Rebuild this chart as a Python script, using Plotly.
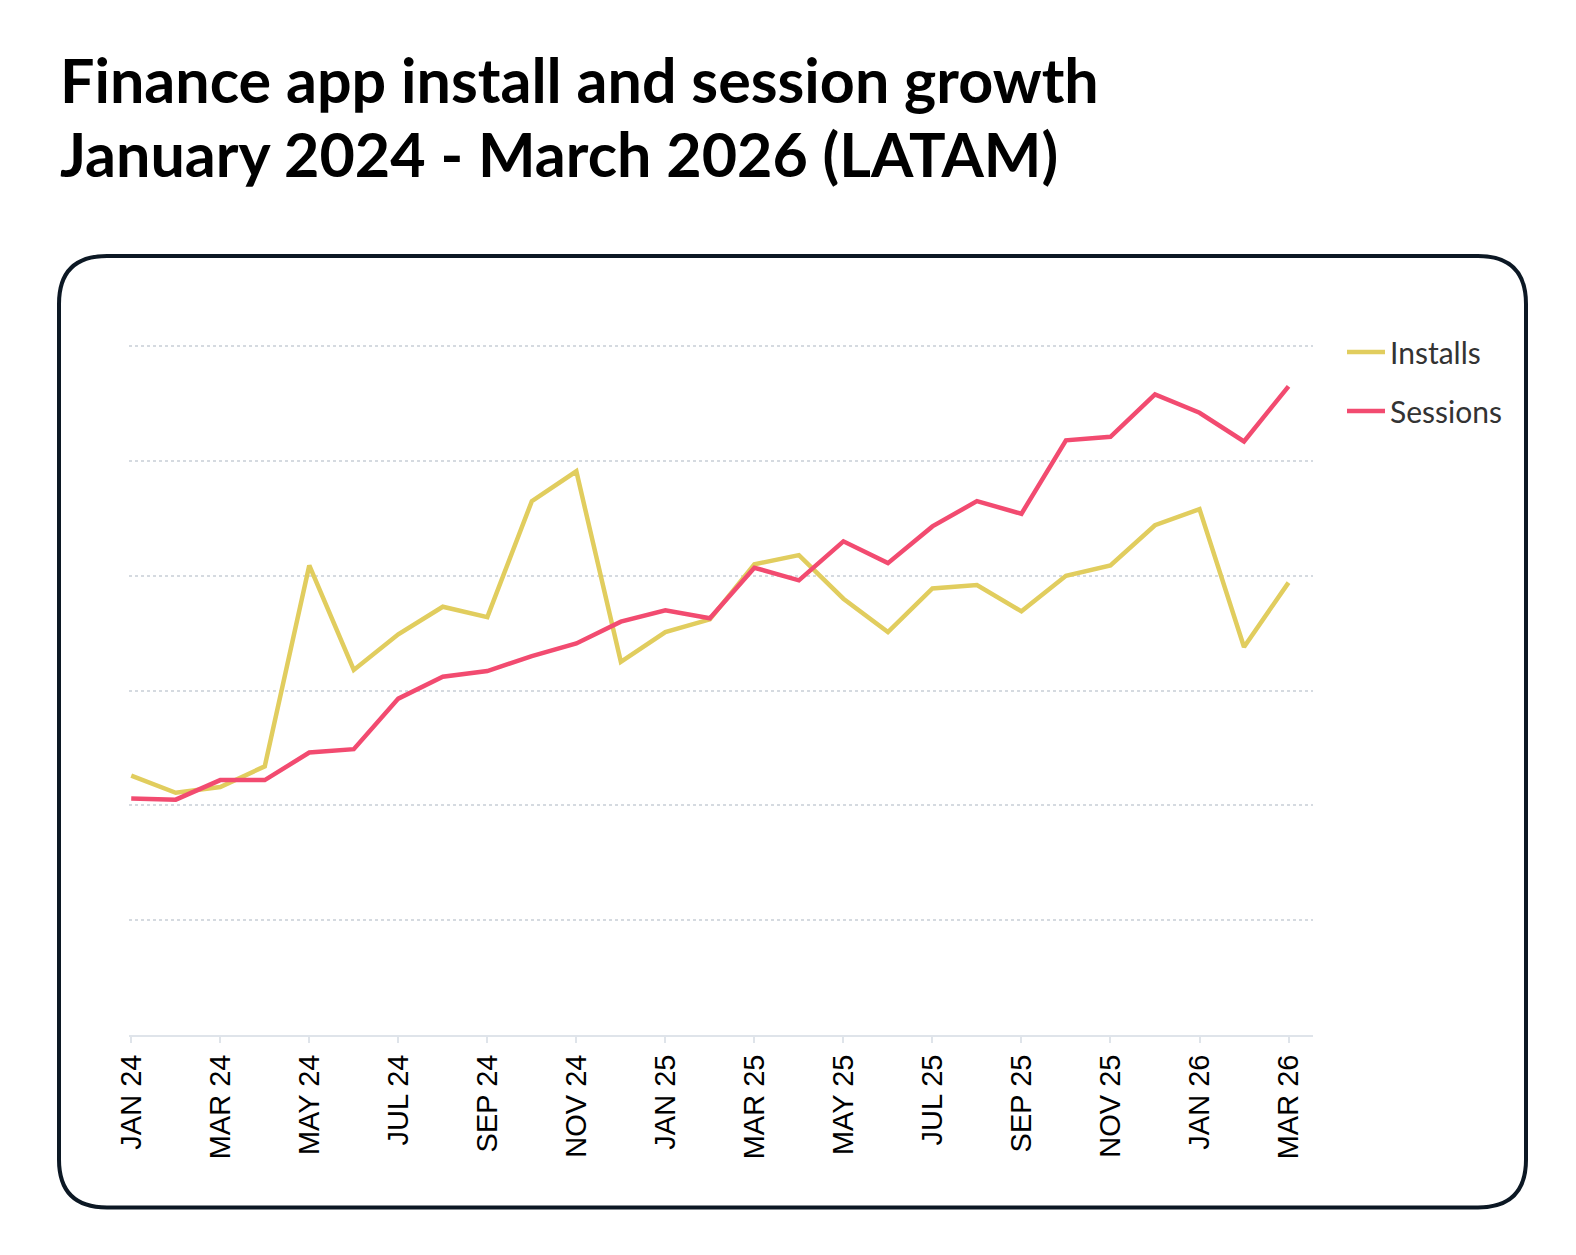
import plotly.graph_objects as go

months = ["JAN 24", "FEB 24", "MAR 24", "APR 24", "MAY 24", "JUN 24", "JUL 24", "AUG 24", "SEP 24",
          "OCT 24", "NOV 24", "DEC 24", "JAN 25", "FEB 25", "MAR 25", "APR 25", "MAY 25", "JUN 25",
          "JUL 25", "AUG 25", "SEP 25", "OCT 25", "NOV 25", "DEC 25", "JAN 26", "FEB 26", "MAR 26"]

installs = [2.26, 2.11, 2.16, 2.34, 4.09, 3.18, 3.49, 3.73, 3.64, 4.65, 4.91, 3.25, 3.51, 3.62,
            4.10, 4.18, 3.80, 3.51, 3.89, 3.92, 3.69, 4.00, 4.09, 4.44, 4.58, 3.38, 3.94]

sessions = [2.06, 2.05, 2.22, 2.22, 2.46, 2.49, 2.93, 3.12, 3.17, 3.30, 3.41, 3.60, 3.70, 3.63,
            4.07, 3.96, 4.30, 4.11, 4.43, 4.65, 4.54, 5.18, 5.21, 5.58, 5.42, 5.17, 5.65]

title_lines = ["Finance app install and session growth", "January 2024 - March 2026 (LATAM)"]

tick_idx = list(range(0, len(months), 2))
tick_text = [months[i] for i in tick_idx]

W, H = 1576, 1255
PL, PR, PT, PB = 129, 1313, 345, 1035.5  # plot area in pixels


def px_x(p):
    return (p - PL) / (PR - PL)


def px_y(p):
    return (PB - p) / (PB - PT)


x = list(range(len(months)))

fig = go.Figure()
fig.add_trace(go.Scatter(x=x, y=installs, mode="lines", name="Installs",
                         line=dict(color="#E1CD5E", width=4.5), legendgroup="a"))
fig.add_trace(go.Scatter(x=x, y=sessions, mode="lines", name="Sessions",
                         line=dict(color="#F24B70", width=4.5), legendgroup="b"))

# rounded border
bx0, bx1, by0, by1, r = 59, 1526, 256, 1208, 48
path = (f"M{px_x(bx0 + r)},{px_y(by0)} L{px_x(bx1 - r)},{px_y(by0)} "
        f"Q{px_x(bx1)},{px_y(by0)} {px_x(bx1)},{px_y(by0 + r)} "
        f"L{px_x(bx1)},{px_y(by1 - r)} "
        f"Q{px_x(bx1)},{px_y(by1)} {px_x(bx1 - r)},{px_y(by1)} "
        f"L{px_x(bx0 + r)},{px_y(by1)} "
        f"Q{px_x(bx0)},{px_y(by1)} {px_x(bx0)},{px_y(by1 - r)} "
        f"L{px_x(bx0)},{px_y(by0 + r)} "
        f"Q{px_x(bx0)},{px_y(by0)} {px_x(bx0 + r)},{px_y(by0)} Z")
fig.add_shape(type="path", path=path, xref="paper", yref="paper",
              line=dict(color="#0C1824", width=4), layer="below")

# two-line title
for txt, top in zip(title_lines, [41, 115]):
    fig.add_annotation(text=txt, xref="paper", yref="paper", x=px_x(58), y=px_y(top),
                       xanchor="left", yanchor="top", showarrow=False,
                       font=dict(family="Lato", size=61, color="#000000", weight="bold"))

fig.update_layout(
    width=W, height=H,
    margin=dict(l=PL, r=W - PR, t=PT, b=H - PB, pad=0),
    paper_bgcolor="white", plot_bgcolor="white",
    showlegend=True,
    legend=dict(x=px_x(1342), xanchor="left", y=px_y(326), yanchor="top",
                font=dict(family="Lato", size=30, color="#333333"), itemwidth=38,
                tracegroupgap=17, bgcolor="rgba(0,0,0,0)"),
    xaxis=dict(range=[-0.05, 26.55], tickmode="array", tickvals=tick_idx, ticktext=tick_text,
               tickangle=-90, tickfont=dict(family="Liberation Sans", size=29, color="#000000"),
               showgrid=False, zeroline=False, showline=True, linecolor="#DFE4EA", linewidth=2,
               ticks="outside", ticklen=6, tickwidth=2, tickcolor="#DFE4EA", fixedrange=True),
    yaxis=dict(range=[0, 6.01], tickmode="array", tickvals=[1, 2, 3, 4, 5, 6], showticklabels=False,
               showgrid=True, gridcolor="#D5DAE0", gridwidth=2, griddash="dot",
               zeroline=False, showline=False, fixedrange=True),
)

fig.write_html("out.html")
